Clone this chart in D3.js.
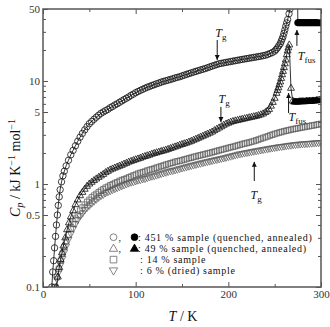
<!DOCTYPE html>
<html><head><meta charset="utf-8">
<script src="https://cdn.jsdelivr.net/npm/d3@7"></script>
<style>
body{margin:0;background:#fff;}
svg{display:block;font-family:"Liberation Serif","Times New Roman",serif;}
</style></head><body>
<svg id="c" width="330" height="327"></svg>
<script>
// ---- data (T / K, Cp / kJ K^-1 mol^-1) ----
const s451quenched = [[9.5,0.1],[10.5,0.14],[11.5,0.18],[12.5,0.24],[13.5,0.31],[14.5,0.4],[15.5,0.5],[16.5,0.62],[17.5,0.75],[18.5,0.88],[20,1.05],[21.5,1.2],[23,1.33],[25,1.5],[27.5,1.7],[30,1.92],[32.5,2.12],[35,2.35],[37.5,2.6],[40,2.85],[42.5,3.1],[45,3.35],[47.5,3.6],[50,3.85],[52.5,4.05],[55,4.25],[57.5,4.45],[60,4.65],[62.5,4.85],[65,5.0],[67.5,5.15],[70,5.3],[72.5,5.5],[75,5.65],[77.5,5.85],[80,6.0],[82.5,6.2],[85,6.4],[87.5,6.6],[90,6.8],[92.5,7.0],[95,7.25],[97.5,7.45],[100,7.7],[102.5,7.9],[105,8.1],[107.5,8.3],[110,8.5],[112.5,8.7],[115,8.85],[117.5,9.05],[120,9.2],[122.5,9.4],[125,9.55],[127.5,9.75],[130,9.9],[132.5,10.05],[135,10.2],[137.5,10.35],[140,10.5],[142.5,10.7],[145,10.85],[147.5,11.0],[150,11.2],[152.5,11.4],[155,11.6],[157.5,11.8],[160,12.0],[162.5,12.2],[165,12.4],[167.5,12.6],[170,12.8],[172.5,13.0],[175,13.2],[177.5,13.45],[180,13.7],[182.5,13.95],[185,14.2],[187.5,14.45],[190,14.7],[192.5,14.85],[195,15.0],[197.5,15.15],[200,15.3],[202.5,15.45],[205,15.6],[207.5,15.75],[210,15.9],[212.5,16.05],[215,16.2],[217.5,16.35],[220,16.5],[222.5,16.65],[225,16.8],[227.5,16.95],[230,17.1],[232.5,17.25],[235,17.4],[237.5,17.6],[240,17.8],[242.5,18.1],[245,18.5],[247.5,18.9],[250,19.5],[251.5,20.2],[253,21],[254.5,22],[256,23],[257,24.2],[258,25.5],[259,27],[260,29],[261,31.3],[262,34],[263,36.7],[264,39.5],[265.5,45],[266.5,50],[268,70],[274.5,150]];
const s451annealed = [[275,36.8],[276.5,36.8],[278,36.8],[279.5,36.8],[281,36.8],[282.5,36.8],[284,36.8],[285.5,36.8],[287,36.8],[288.5,36.8],[290,36.8],[291.5,36.8],[293,36.8],[294.5,36.8],[296,36.8],[297.5,36.8],[299,36.8],[300,36.8]];
const s49quenched = [[14.5,0.1],[16,0.125],[17.5,0.155],[19,0.185],[20.5,0.215],[22,0.25],[24,0.3],[26,0.36],[28,0.42],[30,0.48],[32.5,0.55],[35,0.63],[37.5,0.7],[40,0.77],[42.5,0.83],[45,0.89],[47.5,0.95],[50,1.0],[52.5,1.04],[55,1.08],[57.5,1.12],[60,1.16],[62.5,1.2],[65,1.24],[67.5,1.29],[70,1.33],[72.5,1.37],[75,1.4],[77.5,1.43],[80,1.46],[82.5,1.49],[85,1.52],[87.5,1.56],[90,1.59],[92.5,1.63],[95,1.66],[97.5,1.69],[100,1.72],[102.5,1.75],[105,1.78],[107.5,1.82],[110,1.85],[112.5,1.88],[115,1.91],[117.5,1.95],[120,1.98],[122.5,2.01],[125,2.04],[127.5,2.07],[130,2.1],[132.5,2.13],[135,2.17],[137.5,2.21],[140,2.25],[142.5,2.29],[145,2.33],[147.5,2.38],[150,2.42],[152.5,2.46],[155,2.5],[157.5,2.55],[160,2.6],[162.5,2.66],[165,2.72],[167.5,2.78],[170,2.85],[172.5,2.91],[175,2.98],[177.5,3.05],[180,3.12],[182.5,3.2],[185,3.3],[187.5,3.4],[190,3.5],[192.5,3.6],[195,3.72],[197.5,3.82],[200,3.9],[202.5,3.98],[205,4.05],[207.5,4.1],[210,4.15],[212.5,4.2],[215,4.25],[217.5,4.3],[220,4.35],[222.5,4.4],[225,4.45],[227.5,4.5],[230,4.55],[232.5,4.62],[235,4.7],[237.5,4.8],[240,4.95],[242,5.1],[244,5.3],[246,5.7],[248,6.2],[250,6.8],[252,7.6],[253,8.1],[254,8.6],[255,9.2],[256,9.8],[257,10.6],[258,11.5],[259,12.4],[260,13.5],[261,14.7],[262,16],[263,18],[264,19.6],[264.8,21],[265.8,22.4],[267.6,8.5],[269.5,6.4]];
const s49annealed = [[271,6.25],[272.5,6.25],[274,6.25],[275.5,6.25],[277,6.3],[278.5,6.3],[280,6.3],[281.5,6.3],[283,6.3],[284.5,6.35],[286,6.35],[287.5,6.35],[289,6.35],[290.5,6.4],[292,6.4],[293.5,6.4],[295,6.45],[296.5,6.45],[298,6.5],[300,6.5]];
const s14 = [[13,0.1],[15,0.125],[17,0.15],[19,0.18],[21,0.21],[23,0.245],[25,0.28],[27.5,0.32],[30,0.37],[32.5,0.41],[35,0.46],[37.5,0.5],[40,0.55],[42.5,0.59],[45,0.63],[47.5,0.67],[50,0.7],[52.5,0.74],[55,0.77],[57.5,0.8],[60,0.83],[62.5,0.86],[65,0.89],[67.5,0.92],[70,0.94],[72.5,0.97],[75,0.99],[77.5,1.02],[80,1.04],[82.5,1.07],[85,1.09],[87.5,1.11],[90,1.13],[92.5,1.16],[95,1.18],[97.5,1.21],[100,1.23],[102.5,1.26],[105,1.28],[107.5,1.3],[110,1.32],[112.5,1.35],[115,1.37],[117.5,1.39],[120,1.41],[122.5,1.44],[125,1.46],[127.5,1.49],[130,1.51],[132.5,1.54],[135,1.56],[137.5,1.59],[140,1.61],[142.5,1.64],[145,1.66],[147.5,1.68],[150,1.7],[152.5,1.73],[155,1.75],[157.5,1.78],[160,1.8],[162.5,1.83],[165,1.85],[167.5,1.88],[170,1.9],[172.5,1.93],[175,1.95],[177.5,1.98],[180,2.0],[182.5,2.03],[185,2.06],[187.5,2.09],[190,2.12],[192.5,2.15],[195,2.18],[197.5,2.21],[200,2.24],[202.5,2.27],[205,2.3],[207.5,2.33],[210,2.37],[212.5,2.4],[215,2.44],[217.5,2.47],[220,2.5],[222.5,2.53],[225,2.57],[227.5,2.61],[230,2.65],[232.5,2.7],[235,2.75],[237.5,2.8],[240,2.85],[242.5,2.9],[245,2.96],[247.5,3.01],[250,3.06],[252.5,3.11],[255,3.16],[257.5,3.2],[260,3.25],[262.5,3.29],[265,3.33],[267.5,3.37],[270,3.41],[272.5,3.44],[275,3.48],[277.5,3.51],[280,3.55],[282.5,3.58],[285,3.62],[287.5,3.65],[290,3.69],[292.5,3.72],[295,3.76],[297.5,3.8],[300,3.83]];
const s6 = [[13,0.1],[15,0.12],[17,0.14],[19,0.165],[21,0.19],[23,0.22],[25,0.25],[27.5,0.29],[30,0.33],[32.5,0.37],[35,0.41],[37.5,0.45],[40,0.49],[42.5,0.52],[45,0.56],[47.5,0.59],[50,0.62],[52.5,0.65],[55,0.68],[57.5,0.71],[60,0.74],[62.5,0.77],[65,0.79],[67.5,0.82],[70,0.84],[72.5,0.86],[75,0.88],[77.5,0.9],[80,0.92],[82.5,0.94],[85,0.96],[87.5,0.98],[90,1.0],[92.5,1.02],[95,1.04],[97.5,1.05],[100,1.07],[102.5,1.09],[105,1.1],[107.5,1.12],[110,1.13],[112.5,1.15],[115,1.17],[117.5,1.19],[120,1.2],[122.5,1.22],[125,1.24],[127.5,1.26],[130,1.28],[132.5,1.3],[135,1.32],[137.5,1.34],[140,1.35],[142.5,1.37],[145,1.39],[147.5,1.41],[150,1.43],[152.5,1.45],[155,1.47],[157.5,1.49],[160,1.51],[162.5,1.53],[165,1.55],[167.5,1.57],[170,1.59],[172.5,1.61],[175,1.63],[177.5,1.65],[180,1.67],[182.5,1.69],[185,1.71],[187.5,1.73],[190,1.75],[192.5,1.77],[195,1.79],[197.5,1.81],[200,1.84],[202.5,1.86],[205,1.89],[207.5,1.91],[210,1.94],[212.5,1.96],[215,1.98],[217.5,2.0],[220,2.02],[222.5,2.04],[225,2.06],[227.5,2.08],[230,2.1],[232.5,2.12],[235,2.14],[237.5,2.16],[240,2.18],[242.5,2.2],[245,2.22],[247.5,2.24],[250,2.26],[252.5,2.28],[255,2.3],[257.5,2.31],[260,2.33],[262.5,2.35],[265,2.37],[267.5,2.38],[270,2.4],[272.5,2.41],[275,2.43],[277.5,2.44],[280,2.45],[282.5,2.46],[285,2.47],[287.5,2.48],[290,2.49],[292.5,2.5],[295,2.51],[297.5,2.52],[300,2.53]];

const xTicks = [0,100,200,300];
const xMinor = [50,150,250];
const yTicks = [0.1,0.5,1,5,10,50];
const yMinor = [0.2,0.3,0.4,0.6,0.7,0.8,0.9,2,3,4,6,7,8,9,20,30,40];
const legendRows = [": 451 % sample (quenched, annealed)", ": 49 % sample (quenched, annealed)", ": 14 % sample", ": 6 % (dried) sample"];
const annots = [
  {T:188, from:25, to:16, lT:186, lC:26.8, sub:"g"},
  {T:192, from:5.6, to:4.0, lT:189.5, lC:6.1, sub:"g"},
  {T:228, from:1.07, to:1.64, lT:224, lC:0.71, sub:"g"},
  {T:274, from:21.9, to:31.3, lT:275, lC:16, sub:"fus"},
  {T:265, from:4.89, to:7.65, lT:265, lC:4.1, sub:"fus"}
];

const svg = d3.select("#c");
const L=43,R=321,T0=9,B=287;
const x = d3.scaleLinear().domain([0,300]).range([L,R]);
const y = d3.scaleLog().domain([0.1,50]).range([B,T0]);

svg.append("defs").append("clipPath").attr("id","clip")
  .append("rect").attr("x",L).attr("y",T0).attr("width",R-L).attr("height",B-T0);
svg.select("defs").append("marker").attr("id","ah").attr("viewBox","0 0 10 10")
  .attr("refX",10).attr("refY",5).attr("markerWidth",5).attr("markerHeight",6).attr("markerUnits","userSpaceOnUse")
  .attr("orient","auto").append("path").attr("d","M0,0L10,5L0,10Z").attr("fill","#111");

const plot = svg.append("g").attr("clip-path","url(#clip)");
const line = d3.line().x(d=>x(d[0])).y(d=>y(d[1]));

function markers(data, type, filled, stroke, sw){
  const g = plot.append("g");
  const tri = d3.symbol().type(d3.symbolTriangle).size(21);
  g.selectAll("path").data(data).join("path")
    .attr("transform",d=>`translate(${x(d[0])},${y(d[1])})${type==="down"?" rotate(180)":""}`)
    .attr("d", d=>{
      if(type==="circle") return d3.symbol().type(d3.symbolCircle).size(Math.PI*3.2*3.2)();
      if(type==="square") return "M-2.6,-2.8H2.6V2.8H-2.6Z";
      return tri();
    })
    .attr("fill", filled? "#000":"none")
    .attr("stroke", stroke).attr("stroke-width",sw);
}

markers(s6,"down",false,"#555",0.7);
markers(s14,"square",false,"#555",0.7);
plot.append("path").attr("d",line(s49quenched.concat(s49annealed))).attr("fill","none").attr("stroke","#000").attr("stroke-width",0.8);
markers(s49quenched,"tri",false,"#111",0.8);
markers(s49annealed,"tri",true,"#000",0.8);
plot.append("path").attr("d",line(s451quenched.concat(s451annealed))).attr("fill","none").attr("stroke","#000").attr("stroke-width",0.8);
markers(s451quenched,"circle",false,"#111",0.8);
markers(s451annealed,"circle",true,"#000",0.8);

svg.append("rect").attr("x",L).attr("y",T0).attr("width",R-L).attr("height",B-T0)
  .attr("fill","none").attr("stroke","#555").attr("stroke-width",1.5);

function styleAxis(g){ g.select(".domain").remove(); g.selectAll("line").attr("stroke","#555").attr("stroke-width",1);
  g.selectAll("text").attr("fill","#333").style("font-size","11px").style("font-family",'"Liberation Serif","Times New Roman",serif'); }
svg.append("g").attr("transform",`translate(0,${B})`).call(d3.axisBottom(x).tickValues(xTicks).tickSize(-5).tickPadding(3).tickFormat(d3.format("d"))).call(styleAxis);
svg.append("g").attr("transform",`translate(0,${B})`).call(d3.axisBottom(x).tickValues(xMinor).tickSize(-3).tickFormat("")).call(styleAxis);
svg.append("g").attr("transform",`translate(0,${T0})`).call(d3.axisTop(x).tickValues(xTicks).tickSize(-5).tickFormat("")).call(styleAxis);
svg.append("g").attr("transform",`translate(0,${T0})`).call(d3.axisTop(x).tickValues(xMinor).tickSize(-3).tickFormat("")).call(styleAxis);
svg.append("g").attr("transform",`translate(${L},0)`).call(d3.axisLeft(y).tickValues(yTicks).tickSize(-5).tickPadding(3).tickFormat(d=>String(d))).call(styleAxis);
svg.append("g").attr("transform",`translate(${L},0)`).call(d3.axisLeft(y).tickValues(yMinor).tickSize(-3).tickFormat("")).call(styleAxis);
svg.append("g").attr("transform",`translate(${R},0)`).call(d3.axisRight(y).tickValues(yTicks).tickSize(-5).tickFormat("")).call(styleAxis);
svg.append("g").attr("transform",`translate(${R},0)`).call(d3.axisRight(y).tickValues(yMinor).tickSize(-3).tickFormat("")).call(styleAxis);

annots.forEach(a=>{
  svg.append("line").attr("x1",x(a.T)).attr("x2",x(a.T)).attr("y1",y(a.from)).attr("y2",y(a.to))
    .attr("stroke","#111").attr("stroke-width",1).attr("marker-end","url(#ah)");
  const t = svg.append("text").attr("x",x(a.lT)).attr("y",y(a.lC)).style("font-size","12px").attr("fill","#111");
  t.append("tspan").text("T").style("font-style","italic");
  t.append("tspan").text(a.sub).attr("dy",3).style("font-size","9px");
});

// legend
const lg = svg.append("g").style("font-size","10px").style("letter-spacing","0.7px").attr("fill","#111");
const rowsY=[237.2,248.4,259.6,270.8];
legendRows.forEach((r,i)=>{
  lg.append("text").attr("x", i<2?138:140).attr("y",rowsY[i]+3.4).text(r);
});
const sym = (type, cx, cy, filled)=>{
  let d;
  if(type==="circle") d=d3.symbol().type(d3.symbolCircle).size(Math.PI*3.4*3.4)();
  else if(type==="square") d="M-3.3,-3.3H3.3V3.3H-3.3Z";
  else d=d3.symbol().type(d3.symbolTriangle).size(30)();
  lg.append("path").attr("d",d).attr("transform",`translate(${cx},${cy})${type==="down"?" rotate(180)":""}`)
    .attr("fill",filled?"#000":"none").attr("stroke",filled?"#000":"#666").attr("stroke-width",0.8);
};
sym("circle",113.5,rowsY[0],false); sym("circle",134.5,rowsY[0],true);
sym("tri",113.5,rowsY[1]+0.5,false); sym("tri",134.5,rowsY[1]+0.5,true);
sym("square",113.5,rowsY[2],false); sym("down",113.5,rowsY[3]-0.5,false);
lg.append("text").attr("x",118.5).attr("y",rowsY[0]+3.4).text(",");
lg.append("text").attr("x",118.5).attr("y",rowsY[1]+3.4).text(",");

const xt = svg.append("text").attr("x",183).attr("y",321).attr("text-anchor","middle").style("font-size","14px").attr("fill","#111");
xt.append("tspan").text("T").style("font-style","italic");
xt.append("tspan").text("  /  K");
const yt = svg.append("text").attr("transform","translate(20,168) rotate(-90)").attr("text-anchor","middle").style("font-size","14px").attr("fill","#111");
yt.append("tspan").text("C").style("font-style","italic");
yt.append("tspan").text("p").style("font-style","italic").style("font-size","10px").attr("dy",3);
yt.append("tspan").text("  /  kJ K").attr("dy",-3);
yt.append("tspan").text("−1").style("font-size","10px").attr("dy",-5);
yt.append("tspan").text(" mol").attr("dy",5);
yt.append("tspan").text("−1").style("font-size","10px").attr("dy",-5);
</script></body></html>
